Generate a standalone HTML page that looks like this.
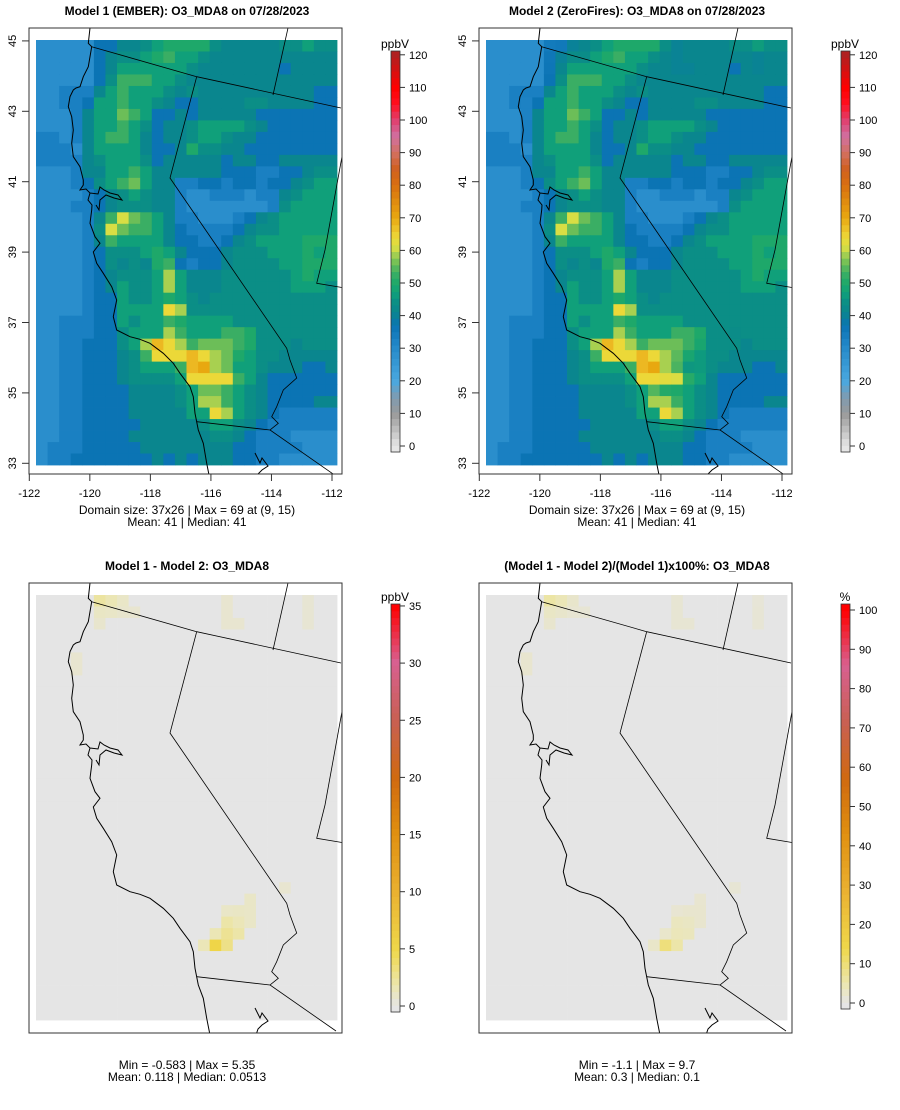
<!DOCTYPE html>
<html><head><meta charset="utf-8"><style>
body{margin:0;background:#fff}
svg{display:block;font-family:"Liberation Sans",Arial,sans-serif}
</style></head><body>
<svg id="s" width="900" height="1110" xmlns="http://www.w3.org/2000/svg">
<rect width="900" height="1110" fill="#fff"/>
</svg>
<script>
// ---- data ----
const levelCodes = "123456789abcde";
const levelValues = [29,33,37,41,44,47,50,53,56,59,61,64,68,70];
const model1Rows = [
"11111334456777754444455655",
"11111345567866544444444444",
"11111346666665444444434444",
"11111358886654444444444444",
"11222468666545444444444433",
"11223668665433444455444433",
"11124669863343444443333333",
"11124668653445666654333333",
"22124688643445665443333333",
"22214666643347554433333333",
"22224566653444443443344444",
"11124466864444443332233455",
"11123568964422332332334566",
"11112345654421122212245666",
"11122345554421111111256666",
"1111248b986422111234566666",
"111125b9886432222345566666",
"11112486666433223456666777",
"11112355567643334555666767",
"11112354547832334555566777",
"11112345556a64445555556766",
"11112346556a64445555556665",
"11112336556765455555555555",
"11112336666ca5555555555555",
"11222336566876666555555555",
"11222335666a86668875555555",
"112233356adca8999875554555",
"1122333458cccdca9765544444",
"1122333456668dea9665444334",
"1122333455556cccc864333333",
"11223333444456998654333333",
"1122333344445 6aa8654333344".replace(/ /g,""),
"11223333444446 6ca654322222".replace(/ /g,""),
"11223333344444566543222222",
"11223333444444455432221111",
"12223333344444444332222111",
"12233333334343444332211111"];
// model1 - model2 differences (ppbV), sparse
const diffRows = [0,0,0,1,1,1,1,2,0,1,2,2,0,1,2,5,6,25,26,27,27,27,28,28,28,29,29,29,30,30,30];
const diffCols = [5,6,7,5,6,7,8,5,16,16,16,17,23,23,23,3,3,21,18,16,17,18,16,17,18,15,16,17,14,15,16];
const diffVals = [2.2,1.6,1.0,1.1,1.0,0.8,0.7,0.8,0.7,0.7,0.7,0.7,0.6,0.6,0.6,0.7,0.7,0.7,1.0,1.0,1.1,1.0,2.0,1.5,1.0,1.6,2.6,2.0,1.5,5.35,3.0];
const xTickLabels = ["-122","-120","-118","-116","-114","-112"];
const xTickValues = [-122,-120,-118,-116,-114,-112];
const yTickValues = [33,35,37,39,41,43,45];
const ppbTicks = [0,10,20,30,40,50,60,70,80,90,100,110,120];
const diffTicks = [0,5,10,15,20,25,30,35];
const pctTicks = [0,10,20,30,40,50,60,70,80,90,100];

// ---- helpers ----
const NS="http://www.w3.org/2000/svg";
const svg=document.getElementById('s');
function mk(tag,attrs,parent){const e=document.createElementNS(NS,tag);for(const k in attrs)e.setAttribute(k,attrs[k]);(parent||svg).appendChild(e);return e;}
function hex(h){return [parseInt(h.slice(1,3),16),parseInt(h.slice(3,5),16),parseInt(h.slice(5,7),16)];}
function interp(stops,t){
  if(t<=stops[0][0])return stops[0][1];
  for(let i=1;i<stops.length;i++){if(t<=stops[i][0]){const a=stops[i-1],b=stops[i];const f=(t-a[0])/(b[0]-a[0]);const c1=hex(a[1]),c2=hex(b[1]);return 'rgb('+c1.map((v,j)=>Math.round(v+(c2[j]-v)*f)).join(',')+')';}}
  return stops[stops.length-1][1];
}
const ppbStops=[[0,"#e6e6e6"],[10,"#9a9a9a"],[15,"#7f9cb0"],[20,"#4aa8e0"],[29,"#2a8ecc"],[33,"#1a80c2"],[37,"#0b74b4"],[41,"#0a868e"],[44,"#0b8e86"],[47,"#10a07a"],[50,"#1ea86a"],[53,"#3aae64"],[56,"#6cbe58"],[59,"#a8d050"],[61,"#d8de44"],[64,"#ecd838"],[68,"#ecb822"],[70,"#e8a810"],[80,"#d97010"],[85,"#d06020"],[90,"#d27060"],[95,"#d070a0"],[100,"#e04070"],[105,"#ff1020"],[110,"#ff0000"],[120,"#b02020"]];
const relStops=[[0,"#e5e5e5"],[0.05,"#ece6b0"],[0.14,"#efd84a"],[0.29,"#eab030"],[0.43,"#e09010"],[0.57,"#d06a10"],[0.71,"#c86050"],[0.86,"#d86090"],[1,"#ff0000"]];

// parse grids
const NR=37,NC=26;
const m1=model1Rows.map(r=>{const a=[];for(let c=0;c<NC;c++){const ch=r[c]||r[r.length-1];a.push(levelValues[levelCodes.indexOf(ch)]);}return a;});
const diff=m1.map(r=>r.map(()=>0));
diffRows.forEach((r,i)=>{diff[r][diffCols[i]]=diffVals[i];});
const m2=m1.map((r,i)=>r.map((v,j)=>v-diff[i][j]));
const pct=m1.map((r,i)=>r.map((v,j)=>diff[i][j]/v*100));

// geometry (top-left panel frame)
const GX0=36,GX1=337,GY0=40,GY1=465;
const cw=(GX1-GX0)/NC,ch=(GY1-GY0)/NR;
const lonX=lon=>29.3+(lon+122)*30.27;
const latY=lat=>463.3-(lat-33)*35.2;

const coast="M90,28 L88.3,43.3 L91.7,46.7 L90,56.7 L88.3,66.7 L83.3,76.7 L80,86.7 L76,88 L73.3,90 L70,96.7 L68.3,106.7 L71.7,116.7 L73.3,130 L71.7,143.3 L73.3,156.7 L80,166.7 L83.3,180 L83.3,185 L80,190 L86,189 L90,193 L88,200 L92,205 L91.7,210 L90,223.3 L95,236.7 L100,243.3 L93.3,252 L96.7,263.3 L103.3,273.3 L111.7,286.7 L116.7,300 L113.3,316.7 L116.7,330 L130,336.7 L140,339.3 L150,343.3 L163.3,353.3 L173.3,363.3 L180,373.3 L190,386.7 L193.3,396.7 L195,413.3 L198.3,430 L203.3,443.3 L206.7,463.3 L210,480 M90,193 L98,194 L100,187 L104,190 L110,193 L118,195 L122,200 L114,198 L106,195 L100,200 L99,210 L96,205 M255,453 L260,463 L262,458 L268,466 L262,470 L258,474 L256,480";
const borders="M91.7,46.7 L196.7,76.7 L341,108 M288,28 L273,95 M196.7,76.7 L170,178 L286.7,348.3 L290,360 L296.7,378 L283.3,390 L276.7,406.7 L271.7,416.7 L278.3,423.3 L270,430 L336,476 M196.7,421.7 L270,430 M345,140 L325,250 L316.7,283.3 L345,288";

function panel(opt){
  const g=mk('g',{transform:`translate(${opt.dx},${opt.dy})`});
  
  
  const boxH=opt.boxH;
  const clipId='clip'+opt.name;
  const cp=mk('clipPath',{id:clipId},g);mk('rect',{x:29,y:28,width:313,height:boxH},cp);
  const grid=mk('g',{},g);
  for(let r=0;r<NR;r++)for(let c=0;c<NC;c++){
    const cell=mk('rect',{x:(GX0+c*cw).toFixed(2),y:(GY0+r*ch).toFixed(2),width:(cw+0.4).toFixed(2),height:(ch+0.4).toFixed(2),fill:opt.color(opt.data[r][c])},grid);
    
    
  }
  const lines=mk('g',{'clip-path':`url(#${clipId})`,fill:'none',stroke:'#000'},g);
  
  
  mk('path',{d:coast,'stroke-width':1.0,},lines);
  mk('path',{d:borders,'stroke-width':0.8,},lines);
  mk('rect',{x:29,y:28,width:313,height:boxH,fill:'none',stroke:'#333','stroke-width':1,},g);
  const t=mk('text',{x:187,y:15,'text-anchor':'middle','font-size':12,'font-weight':'bold',},g);t.textContent=opt.title;
  if(opt.axes){
    const ax=mk('g',{},g);
    xTickValues.forEach((v,i)=>{const x=lonX(v);mk('line',{x1:x,x2:x,y1:474,y2:481,stroke:'#333'},ax);const l=mk('text',{x:x,y:497,'text-anchor':'middle','font-size':11},ax);l.textContent=xTickLabels[i];});
    const ay=mk('g',{},g);
    yTickValues.forEach(v=>{const y=latY(v);mk('line',{x1:29,x2:22,y1:y,y2:y,stroke:'#333'},ay);const l=mk('text',{x:0,y:0,'text-anchor':'middle','font-size':11,transform:`translate(16,${y}) rotate(-90)`},ay);l.textContent=v;});
  }
  opt.stats.forEach((s,i)=>{const e=mk('text',{x:187,y:opt.statsY+i*12,'text-anchor':'middle','font-size':12,},g);e.textContent=s;});
  // colorbar
  const cb=mk('g',{},g);
  const vy=v=>opt.cb.y0-(v-opt.cb.min)*opt.cb.scale;
  const vlo=opt.cb.min-(opt.cb.bottom-opt.cb.y0)/opt.cb.scale, vhi=opt.cb.min+(opt.cb.y0-opt.cb.top)/opt.cb.scale;
  const n=60;
  for(let i=0;i<n;i++){const a=vlo+(vhi-vlo)*i/n,b=vlo+(vhi-vlo)*(i+1)/n;mk('rect',{x:391,y:vy(b),width:9,height:vy(a)-vy(b)+0.5,fill:opt.cbColor((a+b)/2)},cb);}
  mk('rect',{x:391,y:opt.cb.top,width:9,height:opt.cb.bottom-opt.cb.top,fill:'none',stroke:'#333','stroke-width':0.8},cb);
  opt.cb.ticks.forEach(v=>{const y=vy(v);mk('line',{x1:400,x2:405,y1:y,y2:y,stroke:'#333'},cb);const l=mk('text',{x:409,y:y+4,'font-size':11},cb);l.textContent=v;});
  const ct=mk('text',{x:395,y:opt.cb.top-3,'text-anchor':'middle','font-size':12,},cb);ct.textContent=opt.cb.title;
}
const ppbColor=v=>interp(ppbStops,v);
const cbTop={y0:446,min:0,scale:3.26,top:51,bottom:452,ticks:ppbTicks,title:'ppbV'};
panel({name:'model1-panel',dx:0,dy:0,boxH:446,data:m1,color:ppbColor,cbColor:ppbColor,axes:true,
  title:'Model 1 (EMBER): O3_MDA8 on 07/28/2023',stats:['Domain size: 37x26 | Max = 69 at (9, 15)','Mean: 41 |  Median: 41'],statsY:514,cb:cbTop});
panel({name:'model2-panel',dx:450,dy:0,boxH:446,data:m2,color:ppbColor,cbColor:ppbColor,axes:true,
  title:'Model 2 (ZeroFires): O3_MDA8 on 07/28/2023',stats:['Domain size: 37x26 | Max = 69 at (9, 15)','Mean: 41 |  Median: 41'],statsY:514,cb:cbTop});
const diffColor=v=>interp(relStops,Math.max(0,v)/35);
const pctColor=v=>interp(relStops,Math.max(0,v)/100);
panel({name:'difference-panel',dx:0,dy:555,boxH:450,data:diff,color:diffColor,cbColor:diffColor,axes:false,
  title:'Model 1 - Model 2: O3_MDA8',stats:['Min = -0.583 | Max = 5.35','Mean: 0.118 |  Median: 0.0513'],statsY:1069-555,
  cb:{y0:1006-555,min:0,scale:11.43,top:604-555,bottom:1012-555,ticks:diffTicks,title:'ppbV'}});
panel({name:'percent-difference-panel',dx:450,dy:555,boxH:450,data:pct,color:pctColor,cbColor:pctColor,axes:false,
  title:'(Model 1 - Model 2)/(Model 1)x100%: O3_MDA8',stats:['Min = -1.1 | Max = 9.7','Mean: 0.3 |  Median: 0.1'],statsY:1069-555,
  cb:{y0:1003-555,min:0,scale:3.93,top:604-555,bottom:1009-555,ticks:pctTicks,title:'%'}});
</script>
</body></html>
